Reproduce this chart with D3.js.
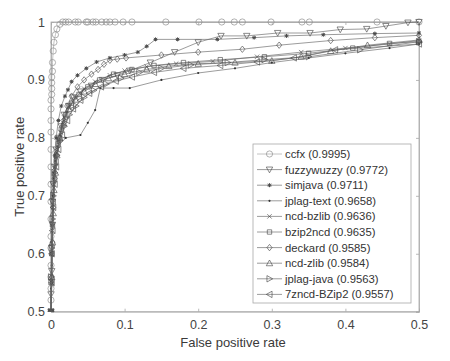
<!DOCTYPE html>
<html><head><meta charset="utf-8">
<script src="https://cdn.jsdelivr.net/npm/d3@7"></script>
<style>body{margin:0;background:#fff}svg{display:block}text{font-family:"Liberation Sans",Arial,Helvetica,sans-serif}</style>
</head><body><svg id="c" width="450" height="361"></svg>
<script>
const xTicks = [0, 0.1, 0.2, 0.3, 0.4, 0.5];
const yTicks = [0.5, 0.6, 0.7, 0.8, 0.9, 1];
const xLabel = "False positive rate";
const yLabel = "True positive rate";
const seriesNames = ["ccfx (0.9995)", "fuzzywuzzy (0.9772)", "simjava (0.9711)", "jplag-text (0.9658)", "ncd-bzlib (0.9636)", "bzip2ncd (0.9635)", "deckard (0.9585)", "ncd-zlib (0.9584)", "jplag-java (0.9563)", "7zncd-BZip2 (0.9557)"];
const markers = ["circle", "tridown", "asterisk", "point", "cross", "square", "diamond", "triup", "triright", "trileft"];

const ccfx = [[0,0.5],[0,0.52],[0,0.54],[0,0.56],[0,0.58],[0,0.61],[0,0.63],[0,0.66],[0,0.69],[0,0.72],[0,0.75],[0,0.78],[0,0.81],[0,0.83],[0,0.85],[0,0.865],[0.001,0.875],[0.001,0.885],[0.001,0.895],[0.001,0.905],[0.002,0.915],[0.002,0.93],[0.003,0.95],[0.004,0.965],[0.006,0.978],[0.008,0.988],[0.012,0.996],[0.016,1],[0.020,1],[0.024,1],[0.033,1],[0.037,1],[0.048,1],[0.050,1],[0.057,1],[0.061,1],[0.069,1],[0.075,1],[0.080,1],[0.087,1],[0.098,1],[0.110,1],[0.156,1],[0.201,1],[0.232,1],[0.249,1],[0.260,1],[0.299,1],[0.341,1],[0.351,1],[0.443,1],[0.5,1]];
const fuzzywuzzy = [[0,0.5],[0,0.53],[0.001,0.57],[0.001,0.61],[0.002,0.65],[0.002,0.69],[0.003,0.72],[0.005,0.75],[0.007,0.78],[0.010,0.8],[0.014,0.82],[0.018,0.84],[0.024,0.855],[0.030,0.87],[0.040,0.88],[0.055,0.89],[0.070,0.9],[0.090,0.908],[0.107,0.916],[0.135,0.93],[0.168,0.948],[0.200,0.965],[0.231,0.976],[0.266,0.976],[0.308,0.981],[0.352,0.981],[0.393,0.987],[0.429,0.988],[0.455,0.993],[0.485,0.999],[0.5,1]];
const simjava = [[0,0.5],[0.001,0.55],[0.001,0.6],[0.002,0.65],[0.003,0.7],[0.004,0.74],[0.005,0.77],[0.007,0.8],[0.010,0.83],[0.014,0.855],[0.019,0.872],[0.023,0.883],[0.028,0.897],[0.036,0.908],[0.048,0.92],[0.062,0.931],[0.080,0.938],[0.100,0.943],[0.118,0.948],[0.130,0.958],[0.142,0.97],[0.172,0.97],[0.226,0.97],[0.276,0.973],[0.32,0.976],[0.37,0.978],[0.44,0.98],[0.5,0.981]];
const jplagText = [[0,0.5],[0,0.54],[0.001,0.58],[0.001,0.62],[0.002,0.66],[0.003,0.7],[0.004,0.73],[0.006,0.76],[0.009,0.785],[0.020,0.8],[0.040,0.805],[0.050,0.826],[0.060,0.848],[0.067,0.886],[0.085,0.886],[0.107,0.886],[0.150,0.9],[0.200,0.912],[0.250,0.92],[0.300,0.93],[0.350,0.938],[0.400,0.946],[0.460,0.955],[0.5,0.962]];
const ncdBzlib = [[0,0.5],[0.001,0.55],[0.001,0.6],[0.002,0.64],[0.003,0.68],[0.004,0.72],[0.006,0.75],[0.009,0.78],[0.013,0.81],[0.018,0.835],[0.025,0.855],[0.034,0.87],[0.045,0.885],[0.060,0.897],[0.080,0.908],[0.100,0.916],[0.130,0.923],[0.170,0.928],[0.220,0.932],[0.280,0.94],[0.340,0.948],[0.400,0.955],[0.460,0.962],[0.5,0.968]];
const bzip2ncd = [[0,0.5],[0,0.55],[0.001,0.6],[0.002,0.65],[0.003,0.69],[0.005,0.73],[0.007,0.76],[0.010,0.79],[0.014,0.815],[0.020,0.84],[0.028,0.86],[0.038,0.875],[0.050,0.888],[0.066,0.9],[0.085,0.91],[0.110,0.918],[0.140,0.925],[0.180,0.93],[0.230,0.935],[0.290,0.94],[0.350,0.946],[0.410,0.955],[0.460,0.963],[0.5,0.966]];
const deckard = [[0,0.5],[0.001,0.56],[0.002,0.62],[0.003,0.68],[0.005,0.73],[0.008,0.77],[0.012,0.8],[0.017,0.83],[0.022,0.855],[0.028,0.872],[0.036,0.888],[0.045,0.9],[0.055,0.91],[0.064,0.918],[0.072,0.927],[0.080,0.934],[0.090,0.936],[0.102,0.938],[0.150,0.943],[0.200,0.948],[0.260,0.953],[0.310,0.96],[0.380,0.968],[0.440,0.973],[0.5,0.977]];
const ncdZlib = [[0,0.5],[0.001,0.56],[0.002,0.62],[0.003,0.67],[0.004,0.71],[0.006,0.74],[0.008,0.77],[0.012,0.8],[0.017,0.825],[0.024,0.85],[0.033,0.866],[0.045,0.88],[0.060,0.893],[0.078,0.903],[0.100,0.91],[0.130,0.918],[0.160,0.924],[0.200,0.928],[0.250,0.93],[0.300,0.933],[0.340,0.94],[0.380,0.95],[0.430,0.96],[0.5,0.969]];
const jplagJava = [[0,0.5],[0,0.56],[0.001,0.61],[0.002,0.66],[0.003,0.7],[0.005,0.74],[0.008,0.77],[0.012,0.795],[0.018,0.82],[0.025,0.84],[0.034,0.855],[0.045,0.87],[0.058,0.882],[0.075,0.893],[0.095,0.903],[0.120,0.913],[0.150,0.92],[0.190,0.926],[0.240,0.93],[0.290,0.935],[0.350,0.94],[0.420,0.952],[0.5,0.966]];
const zncdBzip2 = [[0,0.5],[0.001,0.55],[0.001,0.6],[0.002,0.64],[0.003,0.68],[0.005,0.72],[0.007,0.75],[0.010,0.78],[0.015,0.805],[0.022,0.83],[0.030,0.85],[0.040,0.865],[0.052,0.877],[0.068,0.888],[0.088,0.898],[0.110,0.905],[0.140,0.913],[0.180,0.92],[0.230,0.925],[0.280,0.931],[0.330,0.938],[0.386,0.952],[0.5,0.962]];

const allSeries = [ccfx, fuzzywuzzy, simjava, jplagText, ncdBzlib, bzip2ncd, deckard, ncdZlib, jplagJava, zncdBzip2];

const L = 51, R = 419, T = 22, B = 311.7;
const svg = d3.select("#c");
const x = d3.scaleLinear().domain([0, 0.5]).range([L, R]);
const y = d3.scaleLinear().domain([0.5, 1]).range([B, T]);

svg.append("defs").append("clipPath").attr("id","clip").append("rect")
  .attr("x", L-4).attr("y", T-4).attr("width", R-L+8).attr("height", B-T+4);

svg.append("rect").attr("x", L).attr("y", T).attr("width", R-L).attr("height", B-T)
  .attr("fill","none").attr("stroke","#a8a8a8").attr("stroke-width",0.8);

const gx = svg.append("g").attr("transform", `translate(0,${B})`)
  .call(d3.axisBottom(x).tickValues(xTicks).tickSize(-3).tickPadding(8).tickFormat(d => d3.format("")(d)));
const gy = svg.append("g").attr("transform", `translate(${L},0)`)
  .call(d3.axisLeft(y).tickValues(yTicks).tickSize(-3).tickPadding(6).tickFormat(d => d3.format("")(d)));
const gyr = svg.append("g").attr("transform", `translate(${R},0)`)
  .call(d3.axisRight(y).tickValues(yTicks).tickSize(-3).tickFormat(""));
const gxt = svg.append("g").attr("transform", `translate(0,${T})`)
  .call(d3.axisTop(x).tickValues(xTicks).tickSize(-3).tickFormat(""));
[gx, gy, gyr, gxt].forEach(g => {
  g.select(".domain").attr("stroke","#a8a8a8").attr("stroke-width",0.8);
  g.selectAll(".tick line").attr("stroke","#a8a8a8").attr("stroke-width",0.8);
  g.selectAll(".tick text").attr("fill","#444").style("font-size","12.5px").style("font-family","'Liberation Sans',Arial,sans-serif");
});

svg.append("text").attr("x", (L+R)/2 - 2).attr("y", 347).attr("text-anchor","middle")
  .attr("fill","#3a3a3a").style("font-size","13px").text(xLabel);
svg.append("text").attr("transform", `translate(24,${(T+B)/2}) rotate(-90)`).attr("text-anchor","middle")
  .attr("fill","#3a3a3a").style("font-size","13px").text(yLabel);

function marker(g, type, cx, cy, stroke) {
  const s = 3.2;
  let p;
  switch (type) {
    case "circle": g.append("circle").attr("cx",cx).attr("cy",cy).attr("r",3.1).attr("fill","none").attr("stroke",stroke).attr("stroke-width",0.7); return;
    case "point": g.append("circle").attr("cx",cx).attr("cy",cy).attr("r",1.1).attr("fill","#333"); return;
    case "tridown": p = `M${cx-s},${cy-s*0.8}L${cx+s},${cy-s*0.8}L${cx},${cy+s}Z`; break;
    case "triup": p = `M${cx-s},${cy+s*0.8}L${cx+s},${cy+s*0.8}L${cx},${cy-s}Z`; break;
    case "triright": p = `M${cx-s*0.8},${cy-s}L${cx-s*0.8},${cy+s}L${cx+s},${cy}Z`; break;
    case "trileft": p = `M${cx+s*0.8},${cy-s}L${cx+s*0.8},${cy+s}L${cx-s},${cy}Z`; break;
    case "diamond": p = `M${cx},${cy-s}L${cx+s*0.8},${cy}L${cx},${cy+s}L${cx-s*0.8},${cy}Z`; break;
    case "square": p = `M${cx-2.2},${cy-2.2}h4.4v4.4h-4.4Z`; break;
    case "cross": p = `M${cx-2.2},${cy-2.2}L${cx+2.2},${cy+2.2}M${cx-2.2},${cy+2.2}L${cx+2.2},${cy-2.2}`; break;
    case "asterisk": p = `M${cx-2},${cy}h4M${cx},${cy-2}v4M${cx-1.5},${cy-1.5}L${cx+1.5},${cy+1.5}M${cx-1.5},${cy+1.5}L${cx+1.5},${cy-1.5}`; break;
  }
  g.append("path").attr("d",p).attr("fill","none").attr("stroke",stroke).attr("stroke-width", type==="asterisk"?1.0:0.65);
}

const line = d3.line().x(d => x(d[0])).y(d => y(d[1]));
const plot = svg.append("g").attr("clip-path","url(#clip)");
allSeries.forEach((data, i) => {
  const col = i === 0 ? "#a0a0a0" : "#666";
  const mcol = i === 0 ? "#909090" : "#4a4a4a";
  const g = plot.append("g");
  g.append("path").datum(data).attr("d", line).attr("fill","none").attr("stroke",col).attr("stroke-width",0.65);
  data.forEach(d => marker(g, markers[i], x(d[0]), y(d[1]), mcol));
});

const lg = svg.append("g");
const lx = 253, ly = 144, lw = 158, lh = 159;
lg.append("rect").attr("x",lx).attr("y",ly).attr("width",lw).attr("height",lh)
  .attr("fill","#fff").attr("stroke","#a8a8a8").attr("stroke-width",0.8);
seriesNames.forEach((name, i) => {
  const yy = 154 + i * 15.6;
  const col = i === 0 ? "#a0a0a0" : "#666";
  const mcol = i === 0 ? "#909090" : "#4a4a4a";
  lg.append("line").attr("x1",257).attr("x2",282).attr("y1",yy).attr("y2",yy).attr("stroke",col).attr("stroke-width",0.65);
  marker(lg, markers[i], 269.5, yy, mcol);
  lg.append("text").attr("x",285).attr("y",yy).attr("dy","0.35em").attr("fill","#333")
    .style("font-size","11.3px").text(name);
});
</script></body></html>
